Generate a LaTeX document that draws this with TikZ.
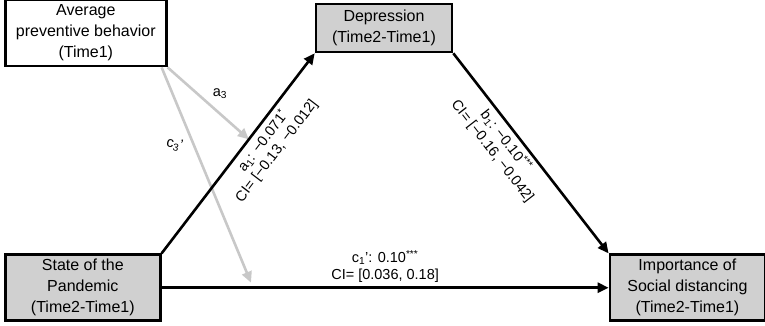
\documentclass[tikz,border=0pt]{standalone}
\usepackage{fontspec}
\setmainfont{Liberation Sans}
\usetikzlibrary{positioning,arrows.meta,calc}
\definecolor{boxgray}{RGB}{208,208,208}
\definecolor{modgray}{RGB}{200,200,200}

\begin{document}
\begin{tikzpicture}[x=1pt,y=1pt,>={Triangle[length=11pt,width=10pt]},
   every node/.style={font=\fontsize{14.5}{16.5}\selectfont},
   var/.style={draw,line width=2.6pt,align=center,inner sep=0pt,
     font=\fontsize{16}{21}\selectfont},
   effect/.style={->,line width=2.6pt},
   moder/.style={->,line width=2.6pt,draw=modgray}]
  \useasboundingbox (0,0) rectangle (765,326);
  \node (state) [var,fill=boxgray,minimum width=155pt,minimum height=66pt,
    anchor=south west] at (4,4) {State of the\\Pandemic\\(Time2-Time1)};
  \node (imp) [var,fill=boxgray,minimum width=155pt,minimum height=66pt,
    right=447pt of state] {Importance of\\Social distancing\\(Time2-Time1)};
  \node (avg) [var,fill=white,minimum width=161pt,minimum height=66pt,
    above=186pt of state.north west,anchor=south west]
    {Average\\preventive behavior\\(Time1)};
  \node (dep) [var,fill=boxgray,minimum width=136pt,minimum height=48pt]
    at (384,298) {Depression\\(Time2-Time1)};
  % moderator paths
  \coordinate (a3end) at ($(state.north east)!.57!(dep.south west)$);
  \coordinate (c3start) at ($(avg.south east)+(-6,0)$);
  \coordinate (c3end) at ($(state.east)!.2!(imp.west)+(0,5)$);
  \draw[moder] (avg.south east) -- node (la3) [midway,above right=0pt]
    {a\textsubscript{3}} (a3end);
  \draw[moder] (c3start) -- node (lc3) [pos=.36,xshift=-19pt,rotate=-12]
    {c\textsubscript{3}'} (c3end);
  % mediation paths
  \draw[effect] (state.north east) -- node (la1) [sloped,below,pos=.6,align=center]
    {a\textsubscript{1}: −0.071\textsuperscript{*}\\CI= [−0.13, −0.012]} (dep.south west);
  \draw[effect] (dep.south east) -- node (lb1) [sloped,below,pos=.4,align=center]
    {b\textsubscript{1}: −0.10\textsuperscript{***}\\CI= [−0.16, −0.042]} (imp.north west);
  \draw[effect] (state.east) -- node (lc1) [above=1pt,align=center]
    {c\textsubscript{1}': 0.10\textsuperscript{***}\\CI= [0.036, 0.18]} (imp.west);
\end{tikzpicture}
\end{document}
